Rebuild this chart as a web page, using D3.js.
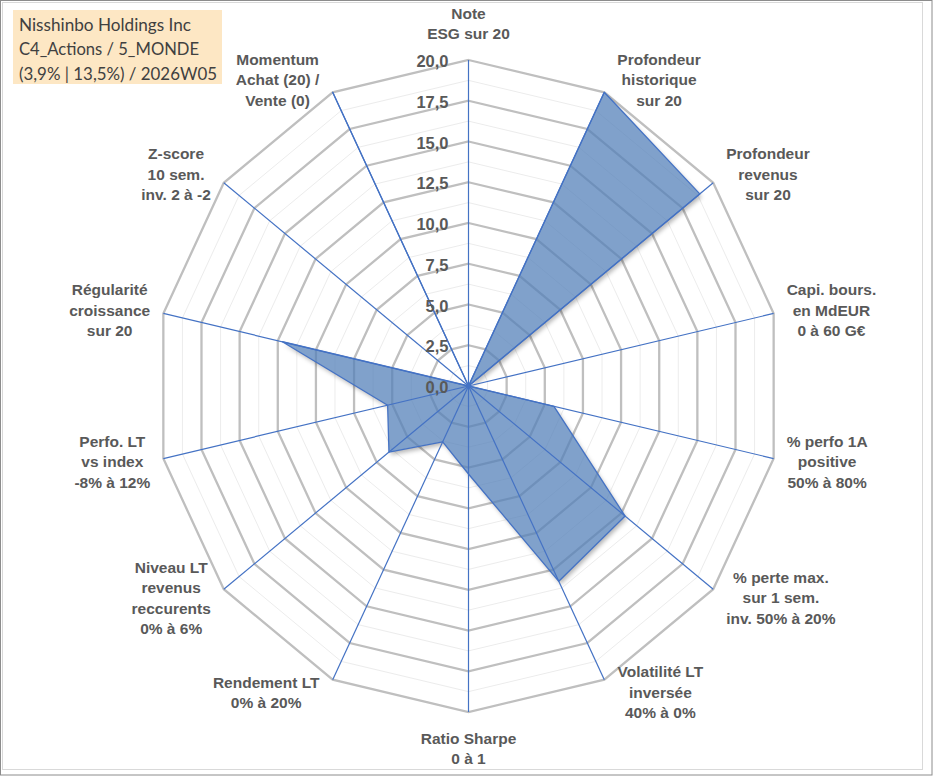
<!DOCTYPE html>
<html>
<head>
<meta charset="utf-8">
<script src="https://cdn.jsdelivr.net/npm/d3@7/dist/d3.min.js"></script>
<style>
  html, body { margin: 0; padding: 0; background: #ffffff; }
  svg { display: block; }
</style>
</head>
<body>
<svg id="chart" width="933" height="776"></svg>
<script>
// ---------- DATA ----------
const categories = [
  "Note\nESG sur 20",
  "Profondeur\nhistorique\nsur 20",
  "Profondeur\nrevenus\nsur 20",
  "Capi. bours.\nen MdEUR\n0 à 60 G€",
  "% perfo 1A\npositive\n50% à 80%",
  "% perte max.\nsur 1 sem.\ninv. 50% à 20%",
  "Volatilité LT\ninversée\n40% à 0%",
  "Ratio Sharpe\n0 à 1",
  "Rendement LT\n0% à 20%",
  "Niveau LT\nrevenus\nreccurents\n0% à 6%",
  "Perfo. LT\nvs index\n-8% à 12%",
  "Régularité\ncroissance\nsur 20",
  "Z-score\n10 sem.\ninv. 2 à -2",
  "Momentum\nAchat (20) /\nVente (0)"
];
const values = [0, 20, 18.9, 0, 5.6, 12.8, 13.3, 5.4, 3.8, 6.5, 5.3, 12.2, 0, 20];
const tickValues = [0, 2.5, 5, 7.5, 10, 12.5, 15, 17.5, 20];
const minorTickValues = [1.25, 3.75, 6.25, 8.75, 11.25, 13.75, 16.25, 18.75];
const titleLines = ["Nisshinbo Holdings Inc", "C4_Actions / 5_MONDE", "(3,9% | 13,5%) / 2026W05"];

// ---------- LAYOUT ----------
const W = 933, H = 776;
const cx = 468.5, cy = 386;
const maxV = 20;
const n = categories.length;

const svg = d3.select("#chart");

const rX = d3.scaleLinear().domain([0, maxV]).range([0, 313]);
const rY = d3.scaleLinear().domain([0, maxV]).range([0, 326]);
const angle = d3.scaleLinear().domain([0, n]).range([0, 2 * Math.PI]);
const pt = (i, v) => [cx + rX(v) * Math.sin(angle(i)), cy - rY(v) * Math.cos(angle(i))];

const fmt = v => d3.format(".1f")(v).replace(".", ",");

const ring = v => d3.range(n).map(i => pt(i, v));
const closed = d3.line().curve(d3.curveLinearClosed);
const polyPts = values.map((v, i) => pt(i, v));

// defs: blur + mask so the shadow only appears outside the polygon
const defs = svg.append("defs");
defs.append("filter").attr("id", "blur")
  .attr("x", "-10%").attr("y", "-10%").attr("width", "120%").attr("height", "120%")
  .append("feGaussianBlur").attr("stdDeviation", 2);
const mask = defs.append("mask").attr("id", "outside")
  .attr("maskUnits", "userSpaceOnUse").attr("x", 0).attr("y", 0).attr("width", W).attr("height", H);
mask.append("rect").attr("x", 0).attr("y", 0).attr("width", W).attr("height", H).attr("fill", "#fff");
mask.append("path").attr("d", closed(polyPts)).attr("fill", "#000");

// background & borders
svg.append("rect").attr("x", 0.5).attr("y", 0.5).attr("width", W - 1.5).attr("height", H - 1.5)
  .attr("fill", "#fff").attr("stroke", "#8c8c8c").attr("stroke-width", 1);
svg.append("rect").attr("x", 2.5).attr("y", 2.5).attr("width", 920).attr("height", 767)
  .attr("fill", "none").attr("stroke", "#d9d9d9").attr("stroke-width", 1);

// minor grid
svg.append("g").selectAll("path").data(minorTickValues).join("path")
  .attr("d", v => closed(ring(v)))
  .attr("fill", "none").attr("stroke", "#ececec").attr("stroke-width", 1);

// major grid
svg.append("g").selectAll("path").data(tickValues.filter(v => v > 0)).join("path")
  .attr("d", v => closed(ring(v)))
  .attr("fill", "none").attr("stroke", "#bfbfbf").attr("stroke-width", 2.3);

// shadow (outside only)
svg.append("g").attr("mask", "url(#outside)")
  .append("path")
  .attr("d", closed(polyPts))
  .attr("transform", "translate(2,3)")
  .attr("fill", "#000").attr("fill-opacity", 0.28)
  .attr("filter", "url(#blur)");

// series polygon fill
svg.append("path")
  .attr("d", closed(polyPts))
  .attr("fill", "rgb(84,128,185)").attr("fill-opacity", 0.74)
  .attr("stroke", "none");

// spokes
svg.append("g").selectAll("line").data(d3.range(n)).join("line")
  .attr("x1", cx).attr("y1", cy)
  .attr("x2", i => pt(i, maxV)[0]).attr("y2", i => pt(i, maxV)[1])
  .attr("stroke", "#4472c4").attr("stroke-width", 1.2);

// series outline
svg.append("path")
  .attr("d", closed(polyPts))
  .attr("fill", "none").attr("stroke", "#4472c4").attr("stroke-width", 1.3)
  .attr("stroke-linejoin", "round");

// tick labels
svg.append("g").selectAll("text").data(tickValues).join("text")
  .attr("x", cx - 20)
  .attr("y", v => cy - rY(v) + 1)
  .attr("text-anchor", "end")
  .attr("dominant-baseline", "central")
  .attr("font-family", "Liberation Sans, Arial, sans-serif")
  .attr("font-weight", "bold")
  .attr("font-size", 16.5)
  .attr("fill", "#595959")
  .text(fmt);

// category labels
const lineH = 20.5;
const lg = svg.append("g");
categories.forEach((c, i) => {
  const lines = c.split("\n");
  const t = lg.append("text")
    .attr("text-anchor", "middle")
    .attr("font-family", "Liberation Sans, Arial, sans-serif")
    .attr("font-weight", "bold")
    .attr("font-size", 15.5)
    .attr("fill", "#595959");
  lines.forEach(l => t.append("tspan").attr("x", 0).attr("dominant-baseline", "central").text(l));
  const w = t.node().getBBox().width;
  const h = lines.length * lineH;
  const s = Math.sin(angle(i)), co = Math.cos(angle(i));
  const [ex, ey] = pt(i, maxV);
  let lx, ly;
  if (Math.abs(s) < 0.01) {
    lx = ex;
    ly = ey - Math.sign(co) * (h / 2 + 16);
  } else {
    lx = ex + Math.sign(s) * (w / 2 + 13);
    ly = ey - co * 14;
  }
  t.selectAll("tspan")
    .attr("x", lx)
    .attr("y", (d, k) => ly - (lines.length - 1) * lineH / 2 + k * lineH);
});

// title box
svg.append("rect").attr("x", 13).attr("y", 10).attr("width", 209).attr("height", 74)
  .attr("fill", "#fde7c4");
const titleWidths = [172, 180, 198];
svg.append("g").selectAll("text").data(titleLines).join("text")
  .attr("x", 19)
  .attr("y", (d, k) => 30.5 + k * 24.5)
  .attr("font-family", "Lato, 'Open Sans', sans-serif")
  .attr("font-size", 18)
  .attr("fill", "#404040")
  .attr("textLength", (d, k) => titleWidths[k])
  .attr("lengthAdjust", "spacingAndGlyphs")
  .text(d => d);
</script>
</body>
</html>
